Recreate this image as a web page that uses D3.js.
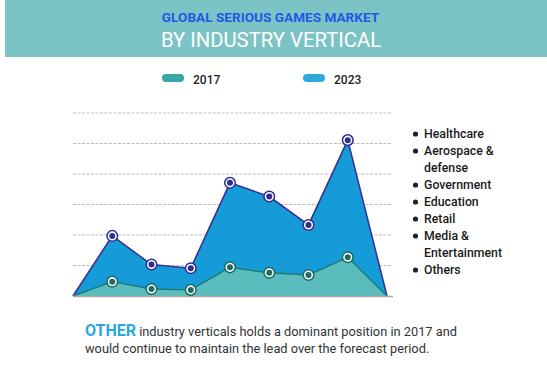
<!DOCTYPE html>
<html><head><meta charset="utf-8">
<script src="https://cdn.jsdelivr.net/npm/d3@7"></script>
<style>body{margin:0;background:#fff}svg{display:block}</style>
</head><body>
<svg id="c" width="547" height="383"></svg>
<script>
const categories = ["Healthcare","Aerospace & defense","Government","Education","Retail","Media & Entertainment","Others"];
const legendLines = [["Healthcare"],["Aerospace &","defense"],["Government"],["Education"],["Retail"],["Media &","Entertainment"],["Others"]];
const values2017 = [0.47,0.23,0.20,0.94,0.76,0.69,1.27];
const values2023 = [1.97,1.03,0.91,3.71,3.26,2.33,5.11];
const gridTicks = [1,2,3,4,5,6];
const seriesNames = ["2017","2023"];

const svg = d3.select("#c");
const font = "Roboto, 'Open Sans', sans-serif";

// header
svg.append("rect").attr("x",5).attr("y",0).attr("width",542).attr("height",57).attr("fill","#7cc3c5");
svg.append("text").attr("x",270.5).attr("y",22).attr("text-anchor","middle")
  .attr("font-family",font).attr("font-weight",700).attr("font-size",13.6).attr("fill","#1f5ae6")
  .text("GLOBAL SERIOUS GAMES MARKET");
svg.append("text").attr("x",271).attr("y",47).attr("text-anchor","middle")
  .attr("font-family",font).attr("font-weight",400).attr("font-size",20.3).attr("fill","#ffffff")
  .text("BY INDUSTRY VERTICAL");

// legend top
const legCols = ["#36a6a6","#2ea9dd"];
const legX = [162,303];
seriesNames.forEach((s,i)=>{
  svg.append("rect").attr("x",legX[i]).attr("y",74).attr("width",22).attr("height",8).attr("rx",4)
    .attr("fill",legCols[i]);
  svg.append("text").attr("x",legX[i]+31).attr("y",83.5).attr("font-family",font).attr("font-weight",500)
    .attr("font-size",12).attr("fill","#222").text(s);
});

// scales
const x = d3.scaleLinear().domain([0, categories.length + 1]).range([73, 387]);
const y = d3.scaleLinear().domain([0, 6]).range([296, 113]);

// grid
svg.append("g").selectAll("line").data(gridTicks).join("line")
  .attr("x1",73).attr("x2",392).attr("y1",d=>y(d)).attr("y2",d=>y(d))
  .attr("stroke","#bbb").attr("stroke-width",1).attr("stroke-dasharray","3,1.5");

function pts(vals){ return [0, ...vals, 0].map((v,i)=>[x(i), y(v)]); }
const area = d3.area().x(d=>d[0]).y0(y(0)).y1(d=>d[1]);
const line = d3.line().x(d=>d[0]).y(d=>d[1]);

const p23 = pts(values2023), p17 = pts(values2017);
svg.append("path").attr("d",area(p23)).attr("fill","#149bd8");
svg.append("path").attr("d",line(p23)).attr("fill","none").attr("stroke","#383391").attr("stroke-width",1.6);
svg.append("path").attr("d",area(p17)).attr("fill","#5bbcbd");
svg.append("path").attr("d",line(p17)).attr("fill","none").attr("stroke","#1e7b74").attr("stroke-width",1.4);

// axis baseline
svg.append("line").attr("x1",73).attr("x2",393).attr("y1",296.5).attr("y2",296.5)
  .attr("stroke","#a9a9a9").attr("stroke-width",1.6);

function markers(vals, dark){
  const g = svg.append("g");
  const data = vals.map((v,i)=>[x(i+1), y(v)]);
  g.selectAll("circle.o").data(data).join("circle").attr("class","o")
    .attr("cx",d=>d[0]).attr("cy",d=>d[1]).attr("r",5.3)
    .attr("fill","#fff").attr("stroke",dark).attr("stroke-width",1.5);
  g.selectAll("circle.i").data(data).join("circle").attr("class","i")
    .attr("cx",d=>d[0]).attr("cy",d=>d[1]).attr("r",3)
    .attr("fill",dark);
}
markers(values2023, "#2f2d8f");
markers(values2017, "#1b6b63");

// right legend
let ly = 138;
const lg = svg.append("g");
legendLines.forEach(lines=>{
  lg.append("circle").attr("cx",415.5).attr("cy",ly-4).attr("r",2.6).attr("fill","#222");
  lines.forEach((t,j)=>{
    lg.append("text").attr("x",424).attr("y",ly).attr("font-family",font).attr("font-weight",500)
      .attr("font-size",12.3).attr("fill","#1a1a1a").text(t);
    ly += 17;
  });
});

// bottom text
const t1 = svg.append("text").attr("x",85).attr("y",336).attr("font-family",font).attr("font-size",12.8).attr("fill","#333");
t1.append("tspan").attr("font-weight",700).attr("font-size",16).attr("fill","#2aa7e1").text("OTHER");
t1.append("tspan").text(" industry verticals holds a dominant position in 2017 and");
svg.append("text").attr("x",85).attr("y",353).attr("font-family",font).attr("font-size",12.8).attr("fill","#333")
  .text("would continue to maintain the lead over the forecast period.");
</script>
</body></html>
